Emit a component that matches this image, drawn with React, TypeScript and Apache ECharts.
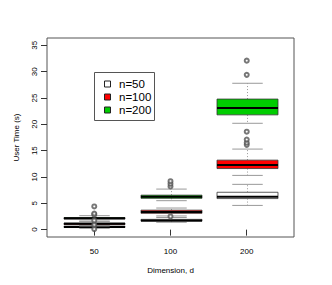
import React, { useEffect, useRef } from "react";
import * as echarts from "echarts";

const dimLabels = ["50", "100", "200"];
const yTicks = [0, 5, 10, 15, 20, 25, 30, 35];
const groupNames = ["n=50", "n=100", "n=200"];
const groupColors = ["#FFFFFF", "#FF0000", "#00CD00"];

// [low whisker, Q1, median, Q3, high whisker] for d = 50, 100, 200
const n50Stats = [
  [0.25, 0.4, 0.5, 0.65, 0.8],
  [1.4, 1.6, 1.75, 1.95, 2.3],
  [4.6, 5.9, 6.25, 7.1, 8.6],
];
const n100Stats = [
  [0.7, 0.95, 1.1, 1.25, 1.6],
  [2.6, 3.1, 3.35, 3.7, 4.1],
  [10.3, 11.6, 12.3, 13.2, 15.3],
];
const n200Stats = [
  [1.6, 2.0, 2.15, 2.3, 2.65],
  [5.5, 5.95, 6.25, 6.55, 7.7],
  [20.2, 21.8, 23.1, 24.8, 27.8],
];

// outliers: [dimension index (1..3), value]
const n50Out = [[1, 0.1], [1, 0.95]];
const n100Out = [[1, 1.75], [2, 2.5], [3, 16.1], [3, 16.5], [3, 17.1], [3, 18.6]];
const n200Out = [[1, 2.85], [1, 3.05], [1, 4.4], [2, 8.2], [2, 8.7], [2, 9.2], [3, 29.4], [3, 32.1]];

const allStats = [n50Stats, n100Stats, n200Stats];
const allOut = [n50Out, n100Out, n200Out];

export default function App() {
  const ref = useRef<HTMLDivElement>(null);
  useEffect(() => {
    if (!ref.current) return;
    const chart = echarts.init(ref.current, null, { renderer: "svg" });
    const font = "Liberation Sans, Arial, Helvetica, sans-serif";

    const boxSeries = allStats.map((stats, gi) => ({
      type: "custom",
      name: groupNames[gi],
      data: stats.map((s, i) => [i + 1, ...s]),
      encode: { x: 0, y: [1, 2, 3, 4, 5] },
      z: 2 + gi,
      renderItem: (params: any, api: any) => {
        const x = api.value(0);
        const pLow = api.coord([x, api.value(1)]);
        const pQ1 = api.coord([x, api.value(2)]);
        const pMed = api.coord([x, api.value(3)]);
        const pQ3 = api.coord([x, api.value(4)]);
        const pHigh = api.coord([x, api.value(5)]);
        const cx = Math.round(pMed[0]) + 0.5;
        const halfW = api.size([0.4, 0])[0];
        const capHalf = api.size([0.2, 0])[0];
        const wh = { stroke: "#999", lineWidth: 1, lineDash: [1, 2] };
        const cap = { stroke: "#999", lineWidth: 1 };
        return {
          type: "group",
          children: [
            { type: "line", shape: { x1: cx, y1: pQ3[1], x2: cx, y2: pHigh[1] }, style: wh },
            { type: "line", shape: { x1: cx, y1: pQ1[1], x2: cx, y2: pLow[1] }, style: wh },
            { type: "line", shape: { x1: cx - capHalf, y1: pHigh[1], x2: cx + capHalf, y2: pHigh[1] }, style: cap },
            { type: "line", shape: { x1: cx - capHalf, y1: pLow[1], x2: cx + capHalf, y2: pLow[1] }, style: cap },
            {
              type: "rect",
              shape: { x: cx - halfW, y: pQ3[1], width: 2 * halfW, height: pQ1[1] - pQ3[1] },
              style: { fill: groupColors[gi], stroke: "#333", lineWidth: 0.8 },
            },
            {
              type: "line",
              shape: { x1: cx - halfW, y1: pMed[1], x2: cx + halfW, y2: pMed[1] },
              style: { stroke: "#000", lineWidth: 2 },
            },
          ],
        };
      },
    }));

    const outSeries = allOut.map((d, gi) => ({
      type: "scatter",
      name: groupNames[gi] + " out",
      data: d,
      symbol: "emptyCircle",
      symbolSize: 4,
      z: 10,
      itemStyle: { color: "#555", borderColor: "#555", borderWidth: 0.8 },
    }));

    const legendRows = [84, 97, 110];
    const legendChildren: any[] = [
      { type: "rect", shape: { x: 94.5, y: 72.5, width: 60, height: 48 }, style: { fill: "#fff", stroke: "#555", lineWidth: 1 } },
    ];
    groupNames.forEach((nm, i) => {
      legendChildren.push({
        type: "rect",
        shape: { x: 104.5, y: legendRows[i] - 3, width: 6, height: 6 },
        style: { fill: groupColors[i], stroke: "#222", lineWidth: 1 },
      });
      legendChildren.push({
        type: "text",
        x: 119,
        y: legendRows[i],
        style: { text: nm, fontSize: 11.5, fontFamily: font, fill: "#000", verticalAlign: "middle", align: "left" },
      });
    });

    chart.setOption({
      animation: false,
      grid: { left: 47, right: 38, top: 38, bottom: 48, show: true, borderColor: "#555", borderWidth: 1, backgroundColor: "transparent" },
      xAxis: {
        type: "value",
        min: 0.38,
        max: 3.62,
        name: "Dimension, d",
        nameLocation: "middle",
        nameGap: 29,
        nameTextStyle: { fontSize: 8, fontFamily: font, color: "#000" },
        axisLine: { show: false },
        splitLine: { show: false },
        axisTick: { show: true, length: 6, customValues: [1, 2, 3], lineStyle: { color: "#333" } },
        axisLabel: {
          customValues: [1, 2, 3],
          formatter: (v: number) => dimLabels[Math.round(v) - 1] ?? "",
          fontSize: 8,
          fontFamily: font,
          color: "#000",
          margin: 10,
        },
      },
      yAxis: {
        type: "value",
        min: -1.4,
        max: 36.4,
        name: "User Time (s)",
        nameLocation: "middle",
        nameRotate: 90,
        nameGap: 27,
        nameTextStyle: { fontSize: 8, fontFamily: font, color: "#000" },
        axisLine: { show: false },
        splitLine: { show: false },
        axisTick: { show: true, length: 6, customValues: yTicks, lineStyle: { color: "#333" } },
        axisLabel: {
          customValues: yTicks,
          rotate: 90,
          fontSize: 8,
          fontFamily: font,
          color: "#000",
          margin: 9,
        },
      },
      graphic: [{ type: "group", children: legendChildren, z: 100 }],
      series: [...boxSeries, ...outSeries],
    });
    return () => chart.dispose();
  }, []);
  return <div ref={ref} style={{ position: "fixed", left: 0, top: 0, width: 332, height: 285, background: "#fff" }} />;
}
